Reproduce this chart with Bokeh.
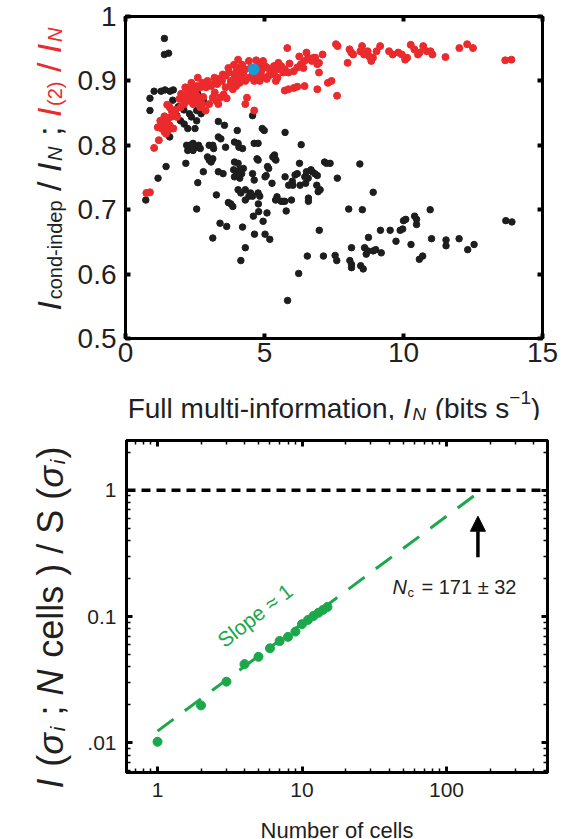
import math
from bokeh.plotting import figure
from bokeh.layouts import column, row
from bokeh.models import (Range1d, FixedTicker, CustomJSTickFormatter, LinearAxis, LogAxis,
                          Label, Arrow, NormalHead, Span, Plot)
from bokeh.embed import file_html
from bokeh.resources import INLINE

# ---------------- data: top panel ----------------
black_x = [1.40, 1.40, 1.55, 1.03, 0.88, 0.88, 1.42, 1.72, 1.20, 1.50, 1.59,
           1.85, 1.98, 2.11, 2.30, 2.37, 2.56, 2.69, 2.56, 2.72, 2.80,
           3.34, 3.56, 2.24, 2.50,
           2.20, 2.30, 2.24, 2.43, 2.56, 2.69, 2.63, 2.43,
           2.17, 1.46, 1.17, 0.73, 2.60, 2.56, 2.80,
           3.01, 3.14, 3.17, 2.95, 3.01, 3.14, 3.08,
           3.34, 3.43, 3.60, 3.34, 3.51, 3.27, 3.14, 3.40, 3.64,
           3.70, 3.79, 3.86, 4.02, 3.92, 4.05, 4.08, 4.21, 3.92, 4.05,
           3.89, 3.98, 4.11, 4.18, 4.24, 4.05, 4.11, 3.92,
           4.05, 4.15, 4.31, 4.44, 4.31, 4.21, 4.15, 4.31,
           4.57, 4.63, 4.73, 4.77, 4.57, 4.63, 4.77, 4.83, 4.57, 4.50,
           4.78, 4.79, 4.60, 4.95, 5.09, 4.64, 5.02, 5.19,
           4.92, 4.99, 4.77, 5.11, 5.15, 5.02, 5.06, 5.27,
           5.30, 5.36, 5.41, 5.37, 5.45, 5.60, 5.67, 5.73, 5.40, 5.78,
           5.74, 5.74, 5.87, 6.00, 6.02, 6.10, 6.18, 5.97, 6.26, 6.32, 6.28,
           6.45, 6.51, 6.48, 6.57, 6.58, 6.58, 6.67, 6.72, 6.81, 6.90, 6.88, 6.93, 7.00,
           7.16, 7.23, 7.36, 7.62,
           6.23, 6.54, 6.97, 7.12, 7.54, 7.60,
           8.03, 8.07, 8.13, 8.13, 8.13, 8.43, 8.52, 8.46, 8.55, 8.60, 8.66, 8.72, 8.74,
           8.91, 8.91, 9.00, 9.17, 9.20, 9.52, 9.73, 9.88, 9.97, 10.00, 10.08, 10.27,
           10.40, 10.47, 10.47, 10.57, 10.69, 10.96, 11.01, 11.53, 11.53,
           12.00, 12.31, 12.54, 13.68, 13.90, 5.83,
           1.70, 1.90, 2.10, 2.60, 1.60, 1.28]
black_y = [0.966, 0.941, 0.943, 0.884, 0.873, 0.854, 0.886, 0.886, 0.828, 0.818, 0.813,
           0.846, 0.838, 0.833, 0.849, 0.844, 0.854, 0.860, 0.838, 0.849, 0.869,
           0.837, 0.831, 0.826, 0.826,
           0.800, 0.800, 0.792, 0.792, 0.797, 0.795, 0.800, 0.803,
           0.772, 0.767, 0.749, 0.715, 0.742, 0.701, 0.759,
           0.800, 0.800, 0.795, 0.782, 0.777, 0.779, 0.774,
           0.813, 0.810, 0.797, 0.759, 0.756, 0.723, 0.656, 0.679, 0.674,
           0.711, 0.709, 0.705, 0.823, 0.805, 0.803, 0.797, 0.795, 0.774, 0.772,
           0.762, 0.759, 0.762, 0.756, 0.764, 0.754, 0.749, 0.751,
           0.731, 0.726, 0.731, 0.721, 0.715, 0.673, 0.621, 0.641,
           0.846, 0.803, 0.779, 0.777, 0.756, 0.746, 0.726, 0.721, 0.721, 0.726,
           0.709, 0.697, 0.690, 0.682, 0.695, 0.662, 0.662, 0.654,
           0.826, 0.823, 0.803, 0.767, 0.764, 0.751, 0.753, 0.741,
           0.782, 0.785, 0.777, 0.779, 0.720, 0.713, 0.713, 0.713, 0.715, 0.698,
           0.820, 0.751, 0.738, 0.744, 0.738, 0.754, 0.756, 0.715, 0.772, 0.801, 0.738,
           0.751, 0.759, 0.741, 0.749, 0.718, 0.713, 0.762, 0.759, 0.756, 0.753, 0.738, 0.728, 0.731,
           0.774, 0.772, 0.772, 0.749,
           0.601, 0.628, 0.668, 0.628, 0.629, 0.621,
           0.701, 0.621, 0.615, 0.610, 0.641, 0.771, 0.700, 0.613, 0.608, 0.641, 0.631, 0.636, 0.657,
           0.727, 0.636, 0.638, 0.668, 0.633, 0.668, 0.651, 0.668, 0.670, 0.683, 0.685, 0.646,
           0.690, 0.685, 0.677, 0.623, 0.628, 0.700, 0.655, 0.653, 0.644,
           0.655, 0.638, 0.646, 0.683, 0.681, 0.559,
           0.870, 0.860, 0.855, 0.880, 0.884, 0.884]

red_x = [0.75, 0.88, 1.03, 1.20, 1.16, 1.31, 1.40, 1.46, 1.53, 1.37, 1.59, 1.72, 1.50, 1.62,
         1.50, 1.59, 1.66, 1.72, 1.85, 1.94, 2.04, 2.17, 1.98, 2.11,
         2.24, 2.30, 2.37, 2.50, 2.56, 2.63, 2.69, 2.30, 2.43, 2.56, 2.69, 2.76,
         2.88, 3.01, 3.14, 3.21,
         2.37, 2.56, 2.76, 2.95, 3.08, 3.21, 3.34, 3.47, 3.60, 3.73, 3.79, 3.92, 3.98, 4.05, 4.11, 4.18, 4.24,
         3.27, 3.40, 3.53, 3.64, 3.34,
         3.79, 3.86, 3.98, 4.11, 4.31, 4.44, 4.57, 4.63, 4.76,
         4.05, 4.44, 4.70, 4.95, 5.02, 4.37, 4.31, 4.63,
         4.83, 5.08, 5.21, 5.34, 5.47, 5.60, 5.73, 5.86, 6.05, 6.18, 6.31, 6.44, 6.57, 6.70, 6.83, 6.96, 7.09,
         4.76, 4.89, 5.15, 5.34, 5.47, 5.67, 4.83, 5.08, 5.41, 5.82,
         5.73, 5.86, 6.05, 6.18, 6.44, 6.25, 6.51, 6.77, 6.90, 6.96, 6.90,
         7.28, 7.41, 7.57, 7.63, 7.61,
         7.99, 8.06, 8.12, 8.19, 8.45, 8.51, 8.58, 8.71, 8.77, 8.84, 8.90, 9.03, 9.16,
         9.48, 9.61, 9.81, 9.94, 10.06, 10.13,
         10.26, 10.39, 10.52, 10.58, 10.71, 10.84, 10.97, 11.04, 11.51,
         12.01, 12.29, 12.50, 13.66, 13.88,
         2.00, 2.15, 2.60, 2.90, 3.30, 3.50, 3.70, 3.90, 4.00, 4.20, 4.30, 4.50,
         3.60, 3.20, 2.80, 2.45, 1.80, 1.40, 1.25, 4.90, 5.50, 6.40, 5.90]
red_y = [0.726, 0.727, 0.796, 0.808, 0.828, 0.826, 0.821, 0.818, 0.823, 0.831, 0.831, 0.826, 0.838, 0.844,
         0.863, 0.859, 0.854, 0.846, 0.844, 0.872, 0.877, 0.874, 0.859, 0.864,
         0.885, 0.879, 0.887, 0.882, 0.877, 0.872, 0.890, 0.869, 0.864, 0.867, 0.859, 0.864,
         0.854, 0.864, 0.874, 0.882,
         0.897, 0.892, 0.897, 0.900, 0.892, 0.897, 0.903, 0.900, 0.908, 0.913, 0.900, 0.910, 0.903, 0.915, 0.921, 0.908, 0.913,
         0.869, 0.874, 0.879, 0.873, 0.864,
         0.895, 0.887, 0.892, 0.897, 0.900, 0.905, 0.910, 0.900, 0.903,
         0.933, 0.931, 0.932, 0.931, 0.923, 0.874, 0.864, 0.854,
         0.926, 0.921, 0.915, 0.923, 0.918, 0.923, 0.918, 0.913, 0.915, 0.921, 0.926, 0.931, 0.936, 0.931, 0.936, 0.928, 0.941,
         0.913, 0.908, 0.908, 0.910, 0.905, 0.913, 0.900, 0.903, 0.900, 0.951,
         0.885, 0.887, 0.889, 0.891, 0.892, 0.938, 0.944, 0.936, 0.926, 0.913, 0.887,
         0.897, 0.900, 0.957, 0.954, 0.877,
         0.928, 0.949, 0.944, 0.941, 0.946, 0.954, 0.941, 0.946, 0.938, 0.931, 0.936, 0.946, 0.954,
         0.946, 0.941, 0.944, 0.941, 0.933, 0.936,
         0.956, 0.949, 0.941, 0.944, 0.954, 0.946, 0.946, 0.941, 0.937,
         0.951, 0.957, 0.951, 0.932, 0.933,
         0.880, 0.890, 0.905, 0.890, 0.895, 0.910, 0.920, 0.925, 0.918, 0.925, 0.918, 0.920,
         0.890, 0.905, 0.875, 0.875, 0.855, 0.845, 0.838, 0.917, 0.928, 0.920, 0.927]

blue_x = [4.61]
blue_y = [0.918]

top_xticks = [0, 5, 10, 15]
top_xtick_labels = ["0", "5", "10", "15"]
top_yticks = [0.5, 0.6, 0.7, 0.8, 0.9, 1.0]
top_ytick_labels = ["0.5", "0.6", "0.7", "0.8", "0.9", "1"]

# ---------------- data: bottom panel ----------------
cells_n = [1, 2, 3, 4, 5, 6, 7, 8, 9, 10, 11, 12, 13, 14, 15]
info_frac = [0.0102, 0.0198, 0.0305, 0.042, 0.048, 0.056, 0.064, 0.069, 0.076,
             0.087, 0.094, 0.101, 0.107, 0.113, 0.119]
fit_n = [1, 171]
fit_frac = [0.0124, 0.98]
n_c = 165
bot_xticks = [1, 10, 100]
bot_xtick_labels = ["1", "10", "100"]
bot_yticks = [0.01, 0.1, 1]
bot_ytick_labels = [".01", "0.1", "1"]
bot_xminor = [0.7, 0.8, 0.9, 2, 3, 4, 5, 6, 7, 8, 9, 20, 30, 40, 50, 60, 70, 80, 90, 200, 300, 400, 500]
bot_yminor = [0.006, 0.007, 0.008, 0.009, 0.02, 0.03, 0.04, 0.05, 0.06, 0.07, 0.08, 0.09,
              0.2, 0.3, 0.4, 0.5, 0.6, 0.7, 0.8, 0.9, 2]

FONT = "Liberation Sans"
TXT = "#231f20"
RED = "#ea2a2c"
GREEN = "#1aa84b"
BLUE = "#1b9ad6"
HAS_FA = "frame_align" in Plot.properties()

# Arial / Liberation Sans advance widths (em) used to chain rich-text pieces
W = {' ': .278, '(': .333, ')': .333, ',': .278, '-': .333, '.': .278, '/': .278, ';': .278,
     '=': .584, '\u00b1': .584, '\u2248': .584, '\u2212': .584, 'F': .611, 'I': .278, 'N': .722,
     'S': .667, 'a': .556, 'b': .556, 'c': .5, 'd': .556, 'e': .556, 'f': .278, 'i': .222,
     'l': .222, 'm': .833, 'n': .556, 'o': .556, 'p': .556, 'r': .333, 's': .5, 't': .278,
     'u': .556, '\u03c3': .6}


def twidth(text, size, style):
    w = sum(W.get(ch, .556) for ch in text) * size
    if style == "italic":
        w += 0.05 * size
    return w


def fmt(vals, labs):
    return CustomJSTickFormatter(args=dict(v=vals, l=labs),
                                 code="const i = v.findIndex(t => Math.abs(t - tick) <= 1e-9 * Math.max(1, Math.abs(t))); return i < 0 ? '' : l[i];")


def style_axis(ax, size, standoff, tick_in, tick_w, minor_in=0, labels=True):
    ax.axis_line_color = "black"
    ax.axis_line_width = 3
    ax.major_tick_in = tick_in
    ax.major_tick_out = 0
    ax.major_tick_line_width = tick_w
    ax.major_tick_line_color = "black"
    ax.minor_tick_in = minor_in
    ax.minor_tick_out = 0
    ax.minor_tick_line_width = 1.5
    ax.minor_tick_line_color = "black"
    ax.major_label_text_font = FONT
    ax.major_label_text_color = TXT
    ax.major_label_text_font_size = f"{size}px"
    ax.major_label_standoff = standoff
    if not labels:
        ax.formatter = CustomJSTickFormatter(code="return '';")
        ax.major_label_text_font_size = "8px"
        ax.major_label_standoff = 0


def lab(p, text, x, y, size, color=TXT, style="normal", angle=0.0, units="data",
        align="left", baseline="alphabetic", xo=0, yo=0):
    p.add_layout(Label(x=x, y=y, x_units=units, y_units=units, text=text,
                       text_font=FONT, text_font_size=f"{size}px", text_font_style=style,
                       text_color=color, angle=angle, text_align=align,
                       text_baseline=baseline, x_offset=xo, y_offset=yo))


def rich(p, pieces, x, y, vertical=False):
    """pieces: (text, size, style, color, baseline shift up). Spaces are turned into offsets."""
    pos = 0.0
    for text, size, style, color, shift in pieces:
        lead = (len(text) - len(text.lstrip(' '))) * W[' '] * size
        core = text.strip(' ')
        if core:
            if vertical:
                lab(p, core, x - shift, y + pos + lead, size, color=color, style=style,
                    angle=math.pi / 2)
            else:
                lab(p, core, x + pos + lead, y + shift, size, color=color, style=style)
        pos += twidth(text, size, style)
    return pos


def fig(**kw):
    f = figure(output_backend="svg", toolbar_location=None, title=None, **kw)
    if HAS_FA:
        f.frame_align = False
    return f


def text_panel(w, h, left=0, right=0, top=0):
    # data units of the panel equal pixels measured from the frame's bottom-left corner
    f = fig(width=w, height=h, x_range=Range1d(0, w - left - right), y_range=Range1d(0, h - top),
            min_border_left=left, min_border_right=right, min_border_top=top, min_border_bottom=0,
            x_axis_location=None, y_axis_location=None)
    f.grid.visible = False
    f.outline_line_color = None
    f.background_fill_color = "white"
    f.border_fill_color = "white"
    return f


def frame_style(p):
    p.xgrid.visible = False
    p.ygrid.visible = False
    p.outline_line_color = "black"
    p.outline_line_width = 3
    p.background_fill_color = "white"
    p.border_fill_color = "white"


YW = 72  # width of the y-title strips

# ================= top panel =================
p1 = fig(width=564 - YW, height=376, x_range=Range1d(0, 15), y_range=Range1d(0.5, 1.0),
         min_border_left=125 - YW, min_border_right=22, min_border_top=16, min_border_bottom=38)
frame_style(p1)
p1.xaxis.ticker = FixedTicker(ticks=top_xticks)
p1.xaxis.formatter = fmt(top_xticks, top_xtick_labels)
p1.yaxis.ticker = FixedTicker(ticks=top_yticks)
p1.yaxis.formatter = fmt(top_yticks, top_ytick_labels)
style_axis(p1.xaxis[0], 28, 4, 5, 4)
style_axis(p1.yaxis[0], 28, 9, 5, 4)
ax_r = LinearAxis(ticker=FixedTicker(ticks=top_yticks))
style_axis(ax_r, 8, 0, 5, 4, labels=False)
p1.add_layout(ax_r, "right")
ax_t = LinearAxis(ticker=FixedTicker(ticks=top_xticks))
style_axis(ax_t, 8, 0, 5, 4, labels=False)
p1.add_layout(ax_t, "above")

p1.scatter(black_x, black_y, size=6.5, color="#1e1e1e")
p1.scatter(red_x, red_y, size=7, color=RED)
p1.scatter(blue_x, blue_y, size=11, color=BLUE)

K = TXT
# y title of top panel
yt1 = text_panel(YW, 420, top=16)
rich(yt1, [("I", 34, "italic", K, 0), ("cond-indep", 20, "normal", K, -6),
           (" / ", 34, "normal", K, 0), ("I", 34, "italic", K, 0), ("N", 20, "italic", K, -6),
           (" ; ", 34, "normal", K, 0),
           ("I", 34, "italic", RED, 0), ("(2)", 20, "normal", RED, -6),
           (" / ", 34, "normal", RED, 0), ("I", 34, "italic", RED, 0),
           ("N", 20, "italic", RED, -6)], 48, 110, vertical=True)

# x title of top panel (x = pixels from p1's frame left)
xt1 = text_panel(564 - YW, 44, left=125 - YW, right=22)
xt_pieces = [("Full multi-information, ", 28, "normal", K, 0), ("I", 28, "italic", K, 0),
             ("N", 19, "italic", K, -6), (" (bits s", 28, "normal", K, 0),
             ("\u22121", 19, "normal", K, 11), (")", 28, "normal", K, 0)]
tot = sum(twidth(t, s, st) for t, s, st, c, sh in xt_pieces)
rich(xt1, xt_pieces, 208.5 - tot / 2, 12)

# ================= bottom panel =================
p2 = fig(width=564 - YW, height=392, x_axis_type="log", y_axis_type="log",
         x_range=Range1d(0.61, 500), y_range=Range1d(0.00583, 2.47),
         min_border_left=126 - YW, min_border_right=17, min_border_top=20, min_border_bottom=40)
frame_style(p2)
p2.xaxis.ticker = FixedTicker(ticks=bot_xticks, minor_ticks=bot_xminor)
p2.xaxis.formatter = fmt(bot_xticks, bot_xtick_labels)
p2.yaxis.ticker = FixedTicker(ticks=bot_yticks, minor_ticks=bot_yminor)
p2.yaxis.formatter = fmt(bot_yticks, bot_ytick_labels)
style_axis(p2.xaxis[0], 21, 10, 6, 3, minor_in=4)
style_axis(p2.yaxis[0], 21, 10, 6, 3, minor_in=4)
ax_r2 = LogAxis(ticker=FixedTicker(ticks=bot_yticks, minor_ticks=bot_yminor))
style_axis(ax_r2, 8, 0, 6, 3, minor_in=4, labels=False)
p2.add_layout(ax_r2, "right")
ax_t2 = LogAxis(ticker=FixedTicker(ticks=bot_xticks, minor_ticks=bot_xminor))
style_axis(ax_t2, 8, 0, 6, 3, minor_in=4, labels=False)
p2.add_layout(ax_t2, "above")

p2.add_layout(Span(location=1.0, dimension="width", line_color="black",
                   line_width=3.5, line_dash="9 6"))
p2.line(fit_n, fit_frac, line_color=GREEN, line_width=3, line_dash="20 14")
p2.scatter(cells_n, info_frac, size=9, color=GREEN)

p2.add_layout(Arrow(end=NormalHead(size=15, fill_color="black", line_color="black"),
                    x_start=n_c, y_start=0.294, x_end=n_c, y_end=0.622,
                    line_color="black", line_width=3.5))

# N_c annotation (data coords + pixel offsets)
lab(p2, "N", 42.3, 0.170, 20, style="italic")
lab(p2, "c", 42.3, 0.170, 13, xo=15, yo=-5)
lab(p2, "= 171 \u00b1 32", 42.3, 0.170, 20, xo=29)

# slope label
lab(p2, "Slope \u2248 1", 4.73, 0.102, 21, color=GREEN, angle=math.radians(38),
    align="center", baseline="middle")

# y title of bottom panel
yt2 = text_panel(YW, 419, top=20)
rich(yt2, [("I", 36, "italic", K, 0), (" (", 36, "normal", K, 0), ("\u03c3", 36, "italic", K, 0),
           ("i", 21, "italic", K, -7), (" ; ", 36, "normal", K, 0), ("N", 36, "italic", K, 0),
           (" cells ) / S (", 36, "normal", K, 0), ("\u03c3", 36, "italic", K, 0),
           ("i", 21, "italic", K, -7), (")", 36, "normal", K, 0)], 50, 51, vertical=True)

# x title of bottom panel
xt2 = text_panel(564 - YW, 27, left=126 - YW, right=17)
lab(xt2, "Number of cells", 210.5, 9, 22, align="center")

layout = column(row(yt1, column(p1, xt1)), row(yt2, column(p2, xt2)))
open("out.html", "w").write(file_html(layout, INLINE))
